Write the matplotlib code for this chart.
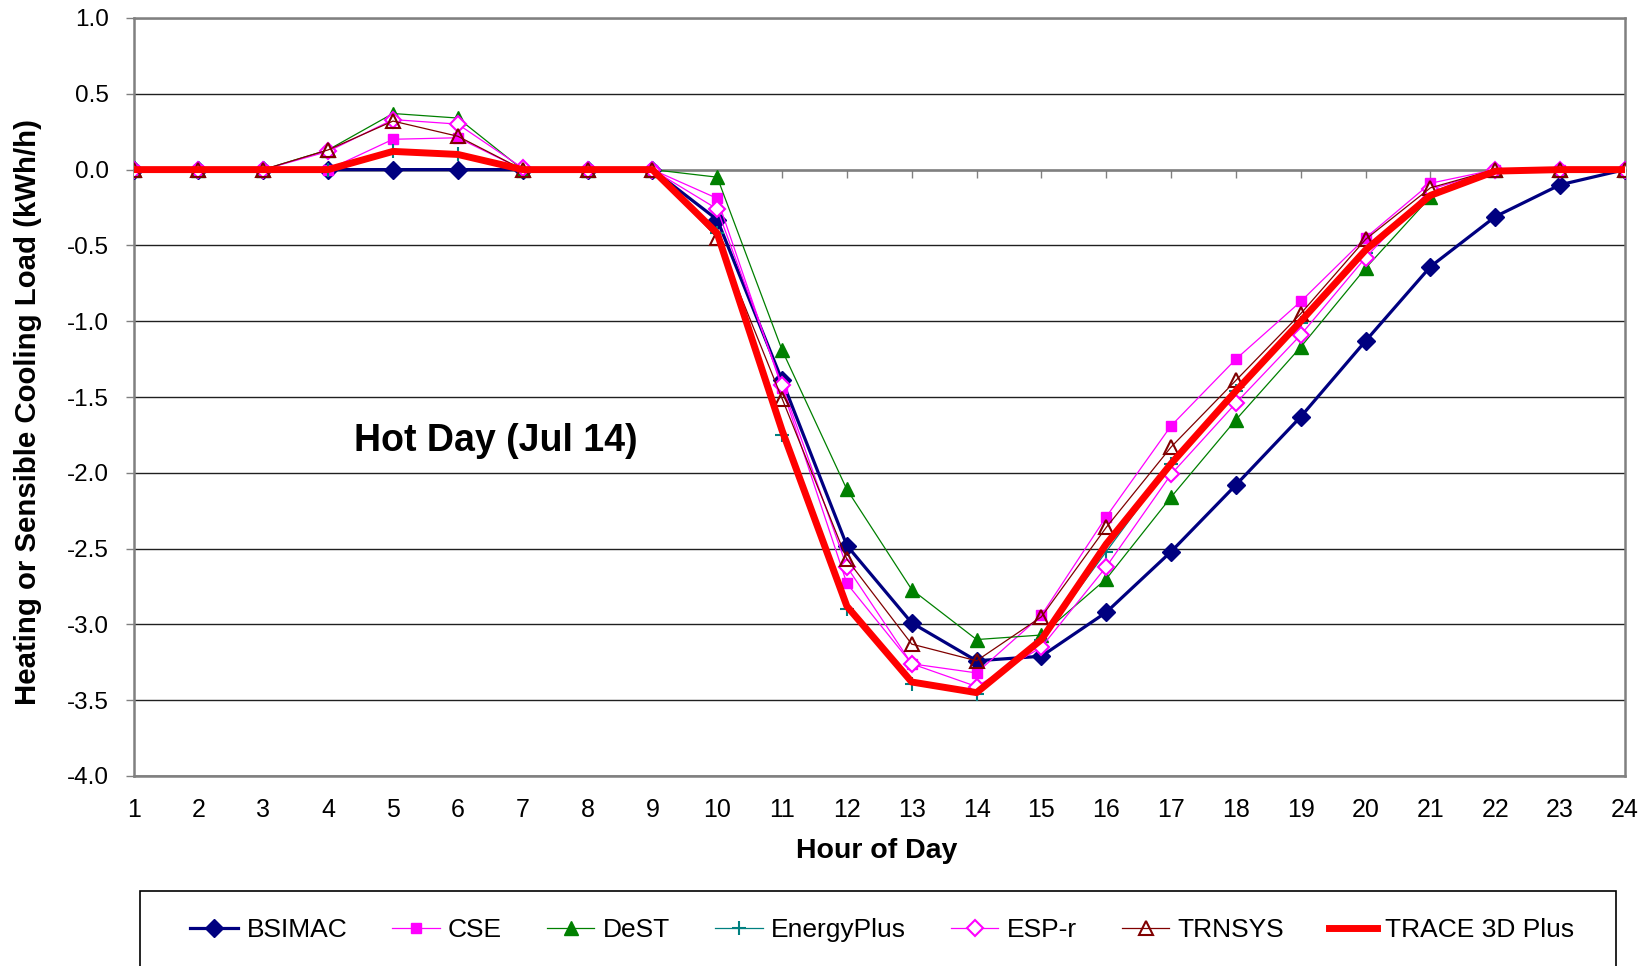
import matplotlib
matplotlib.use("Agg")
import matplotlib.pyplot as plt
from matplotlib.patches import Rectangle

plt.rcParams['font.family'] = ['Liberation Sans', 'DejaVu Sans']
plt.rcParams['axes.unicode_minus'] = False

hours = list(range(1, 25))
bsimac = [0, 0, 0, 0, 0, 0, 0, 0, 0, -0.33, -1.39, -2.48, -2.99, -3.24, -3.21, -2.92,
          -2.52, -2.08, -1.63, -1.13, -0.64, -0.31, -0.10, 0]
cse = [0, 0, 0, 0, 0.20, 0.21, 0, 0, 0, -0.19, -1.44, -2.73, -3.26, -3.32, -2.94, -2.29,
       -1.69, -1.25, -0.87, -0.45, -0.09, 0, 0, 0]
dest = [0, 0, 0, 0.13, 0.37, 0.34, 0, 0, 0, -0.05, -1.19, -2.11, -2.77, -3.10, -3.07, -2.70,
        -2.16, -1.65, -1.17, -0.65, -0.18, 0, 0, 0]
energyplus = [0, 0, 0, 0, 0.12, 0.10, 0, 0, 0, -0.42, -1.75, -2.90, -3.39, -3.46, -3.10, -2.52,
              -1.94, -1.46, -1.01, -0.55, -0.15, 0, 0, 0]
espr = [0, 0, 0, 0.12, 0.33, 0.30, 0.01, 0, 0, -0.26, -1.42, -2.62, -3.26, -3.41, -3.15, -2.62,
        -2.01, -1.54, -1.09, -0.58, -0.13, 0, 0, 0]
trnsys = [0, 0, 0, 0.13, 0.32, 0.22, 0, 0, 0, -0.45, -1.51, -2.57, -3.13, -3.24, -2.95, -2.36,
          -1.83, -1.39, -0.95, -0.46, -0.12, 0, 0, 0]
trace = [0, 0, 0, 0, 0.12, 0.10, 0, 0, 0, -0.42, -1.72, -2.88, -3.38, -3.45, -3.10, -2.47,
         -1.94, -1.46, -1.00, -0.53, -0.17, -0.01, 0, 0]

y_ticks = [1.0, 0.5, 0.0, -0.5, -1.0, -1.5, -2.0, -2.5, -3.0, -3.5, -4.0]

fig = plt.figure(figsize=(16.49, 9.66), dpi=100)
ax = fig.add_axes([133.6 / 1649, 1 - 776 / 966, (1625 - 133.6) / 1649, (776 - 18) / 966])

ax.plot(hours, bsimac, color='#000080', lw=2.3, marker='D', ms=9, mfc='#000080', mec='#000080',
        label='BSIMAC', zorder=3)
ax.plot(hours, cse, color='#FF00FF', lw=0.9, marker='s', ms=7, mfc='#FF00FF', mec='#FF00FF',
        label='CSE', zorder=3)
ax.plot(hours, dest, color='#008000', lw=0.9, marker='^', ms=10, mfc='#008000', mec='#008000',
        label='DeST', zorder=3)
ax.plot(hours, energyplus, color='#008080', lw=0.9, marker='+', ms=10, mew=1.5,
        label='EnergyPlus', zorder=3)
ax.plot(hours, espr, color='#FF00FF', lw=0.9, marker='D', ms=8, mfc='white', mec='#FF00FF', mew=1.5,
        label='ESP-r', zorder=3)
ax.plot(hours, trnsys, color='#800000', lw=0.9, marker='^', ms=10, mfc='none', mec='#800000', mew=1.5,
        label='TRNSYS', zorder=3)
ax.plot(hours, trace, color='#FF0000', lw=5, label='TRACE 3D Plus', zorder=4)

ax.set_xlim(1, 24)
ax.set_ylim(-4.0, 1.0)
ax.set_yticks(y_ticks)
ax.set_yticklabels([f"{v:.1f}" for v in y_ticks])
ax.set_xticks(hours)
ax.yaxis.grid(True, color='#202020', lw=1.0)
ax.set_axisbelow(True)

spine_col = '#808080'
for s in ['left', 'right', 'top', 'bottom']:
    ax.spines[s].set_color(spine_col)
    ax.spines[s].set_linewidth(1.8)
ax.spines['bottom'].set_position(('data', 0))
ax.tick_params(axis='y', direction='out', length=6, width=1, color=spine_col, labelsize=17.5, pad=12)
ax.tick_params(axis='x', direction='out', length=6, width=1, color=spine_col, labelbottom=False)

sec = ax.secondary_xaxis(0.0)
sec.set_xticks(hours)
sec.tick_params(axis='x', length=0, labelsize=18, pad=16)
sec.spines['bottom'].set_color(spine_col)
sec.spines['bottom'].set_linewidth(1.8)

ax.set_ylabel('Heating or Sensible Cooling Load (kWh/h)', fontsize=21.2, fontweight='bold')
ax.yaxis.set_label_coords(-0.0613, 0.4806)
ax.set_xlabel('Hour of Day', fontsize=20.5, fontweight='bold')
ax.xaxis.set_label_coords(0.498, -0.0818)

ax.text(6.59, -1.79, 'Hot Day (Jul 14)', fontsize=27, fontweight='bold', ha='center', va='center')

handles, labels = ax.get_legend_handles_labels()
fig.legend(handles, labels, loc='center', bbox_to_anchor=(839 * 1.0517 / 1649, 1 - 930 / 966),
           ncol=7, frameon=False, fontsize=19, handlelength=1.8, handletextpad=0.32,
           columnspacing=1.7)
fig.patches.append(Rectangle((140 / 1649, -0.05), (1616 - 140) / 1649, 0.05 + 1 - 891 / 966,
                             transform=fig.transFigure, fill=False, edgecolor='black', lw=1.2))

fig.savefig('out.png', dpi=100)
